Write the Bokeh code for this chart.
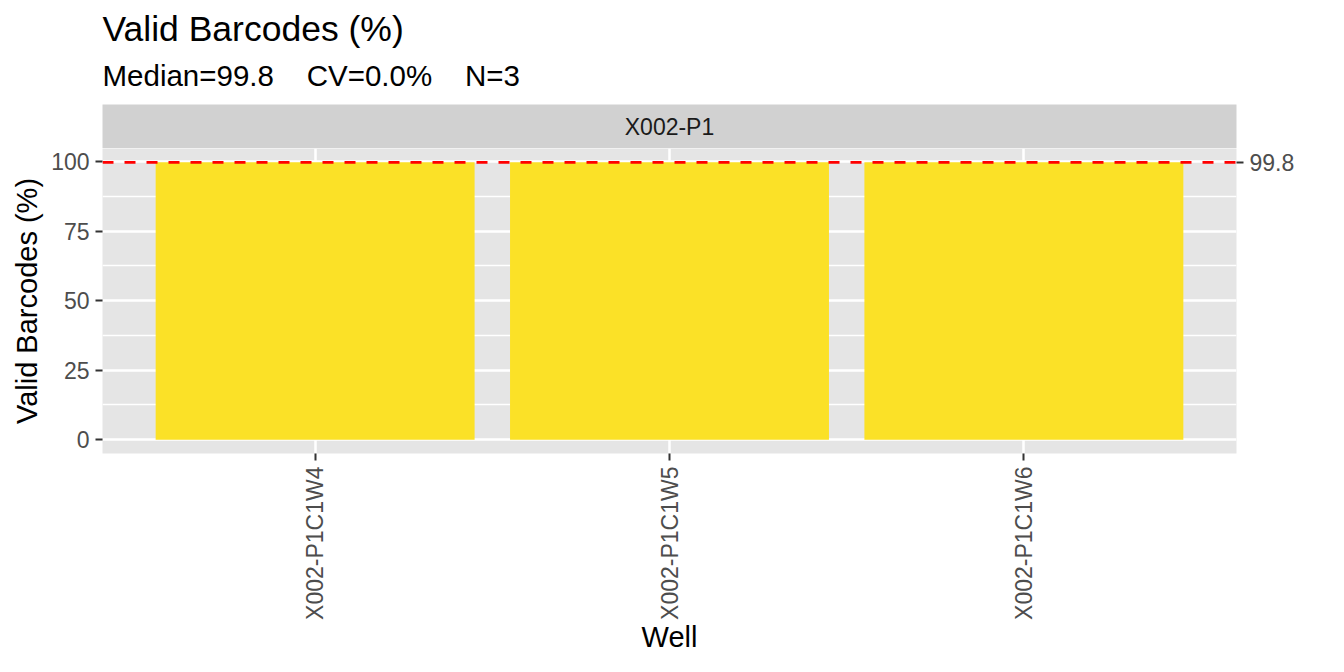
import math
from bokeh.plotting import figure
from bokeh.layouts import column
from bokeh.models import FactorRange, Range1d, LinearAxis, FixedTicker, Span, Title
from bokeh.core.properties import value
from bokeh.embed import file_html
from bokeh.resources import INLINE

# ---- data ----
title_text = "Valid Barcodes (%)"
# non-breaking spaces keep the wide gaps (plain runs of spaces collapse in SVG)
subtitle_text = "Median=99.8\u00a0\u00a0\u00a0\u00a0CV=0.0%\u00a0\u00a0\u00a0\u00a0N=3"
facet_label = "X002-P1"
wells = ["X002-P1C1W4", "X002-P1C1W5", "X002-P1C1W6"]
valid_pct = [99.8, 99.8, 99.8]
median_val = 99.8
y_ticks = [0, 25, 50, 75, 100]
y_minor = [12.5, 37.5, 62.5, 87.5]
x_title = "Well"
y_title = "Valid Barcodes (%)"

# ---- styling ----
FONT = "Liberation Sans"
PANEL = "#E5E5E5"
STRIP = "#D1D1D1"
BAR = "#FBE127"
TICK_LBL = "#4D4D4D"
TICK = "#333333"
TICK_FS = "23px"
AXT_FS = "29px"

W = 1328
LEFT, RIGHT = 102, 92
TOP = 104
STRIP_H = 44
PANEL_H = 305
BOTTOM = 203

# ggplot-like 5% expansion of [0, max]
vmax = max(valid_pct)
pad = 0.05 * vmax
panel_lo, panel_hi = -pad, vmax + pad

x_range = FactorRange(*wells, range_padding=0.2 / 3)

# ---- facet strip + titles ----
s = figure(width=W, height=TOP + STRIP_H, x_range=x_range, y_range=Range1d(0, 1),
           x_axis_type=None, y_axis_type=None,
           output_backend="svg", toolbar_location=None, title_location=None,
           min_border_left=LEFT, min_border_right=RIGHT,
           min_border_top=TOP, min_border_bottom=0)
s.background_fill_color = STRIP
s.border_fill_color = "white"
s.outline_line_color = None
s.grid.visible = False
s.text(x=[wells[1]], y=[0.5], text=[facet_label],
       text_align="center", text_baseline="middle", text_font=value(FONT),
       text_font_size=TICK_FS, text_color="#1A1A1A")

sub = Title(text=subtitle_text, align="left", text_font=FONT, text_font_size="29.5px",
            text_font_style="normal", text_color="black", standoff=26, offset=0)
s.add_layout(sub, "above")
main = Title(text=title_text, align="left", text_font=FONT, text_font_size="35.5px",
             text_font_style="normal", text_color="black", standoff=-11, offset=0)
s.add_layout(main, "above")

# ---- main panel ----
p = figure(width=W, height=PANEL_H + BOTTOM, x_range=x_range,
           y_range=Range1d(panel_lo, panel_hi),
           output_backend="svg", toolbar_location=None, title_location=None,
           min_border_left=LEFT, min_border_right=RIGHT,
           min_border_top=0, min_border_bottom=BOTTOM)
p.background_fill_color = PANEL
p.border_fill_color = "white"
p.outline_line_color = None

p.vbar(x=wells, top=valid_pct, bottom=0, width=0.9, fill_color=BAR, line_color=None)

# left axis
yax = p.left[0]
yax.ticker = FixedTicker(ticks=y_ticks, minor_ticks=y_minor)
yax.axis_line_color = None
yax.major_tick_out = 7
yax.major_tick_in = 0
yax.minor_tick_out = 0
yax.minor_tick_in = 0
yax.major_tick_line_color = TICK
yax.major_tick_line_width = 2
yax.major_label_standoff = 6
yax.major_label_text_font = FONT
yax.major_label_text_font_size = TICK_FS
yax.major_label_text_color = TICK_LBL
yax.axis_label = y_title
yax.axis_label_text_font = FONT
yax.axis_label_text_font_size = AXT_FS
yax.axis_label_text_font_style = "normal"
yax.axis_label_text_color = "black"
yax.axis_label_standoff = 5

# bottom axis
xax = p.below[0]
xax.axis_line_color = None
xax.major_tick_out = 7
xax.major_tick_in = 0
xax.major_tick_line_color = TICK
xax.major_tick_line_width = 2
xax.major_label_orientation = math.pi / 2
xax.major_label_standoff = 6
xax.major_label_text_font = FONT
xax.major_label_text_font_size = TICK_FS
xax.major_label_text_color = TICK_LBL
xax.axis_label = x_title
xax.axis_label_text_font = FONT
xax.axis_label_text_font_size = AXT_FS
xax.axis_label_text_font_style = "normal"
xax.axis_label_text_color = "black"
xax.axis_label_standoff = -2

# right axis with median tick
rax = LinearAxis(ticker=FixedTicker(ticks=[median_val], minor_ticks=[]))
rax.axis_line_color = None
rax.major_tick_out = 7
rax.major_tick_in = 0
rax.minor_tick_out = 0
rax.minor_tick_in = 0
rax.major_tick_line_color = TICK
rax.major_tick_line_width = 2
rax.major_label_standoff = 6
rax.major_label_text_font = FONT
rax.major_label_text_font_size = TICK_FS
rax.major_label_text_color = TICK_LBL
p.add_layout(rax, "right")

# grids
p.xgrid.grid_line_color = "white"
p.xgrid.grid_line_width = 2.5
p.ygrid.grid_line_color = "white"
p.ygrid.grid_line_width = 2.5
p.ygrid.minor_grid_line_color = "white"
p.ygrid.minor_grid_line_width = 1.3

# median reference line
p.add_layout(Span(location=median_val, dimension="width", line_color="#FF0000",
                  line_dash="11 11", line_width=2.7))

layout = column(s, p, spacing=0)
open("out.html", "w").write(file_html(layout, INLINE))
